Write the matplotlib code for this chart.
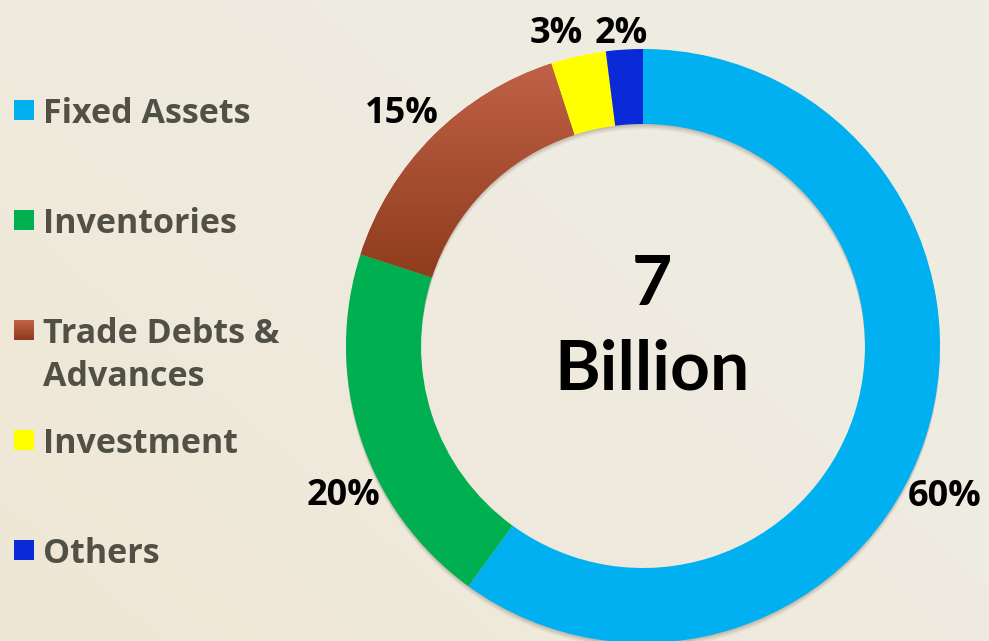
import numpy as np
import matplotlib
matplotlib.use("Agg")
import matplotlib.pyplot as plt
from matplotlib.patches import Rectangle, Wedge
from matplotlib.colors import LinearSegmentedColormap

categories = ["Fixed Assets", "Inventories", "Trade Debts &\nAdvances", "Investment", "Others"]
shares = [60, 20, 15, 3, 2]
pct_labels = ["60%", "20%", "15%", "3%", "2%"]
center_top = "7"
center_bottom = "Billion"

colors = ["#00B0F0", "#00B050", "#B55438", "#FFFF00", "#0A2AD8"]
legend_color = "#505046"

W, H = 989, 641
fig = plt.figure(figsize=(W / 100, H / 100), dpi=100)

# background
bg = fig.add_axes([0, 0, 1, 1])
yy, xx = np.mgrid[0:H, 0:W]
warm = np.clip(((W - xx) / W * 0.8 + yy / H * 0.6) - 0.55, 0, 1) * 0.9
base = np.array([238, 235, 224]) / 255
tint = np.array([240, 230, 210]) / 255
img = base[None, None, :] * (1 - warm[..., None]) + tint[None, None, :] * warm[..., None]
bg.imshow(img, extent=[0, 1, 0, 1], aspect="auto")
bg.axis("off")

# donut axes (radius 297px, centre at 643,346)
R = 297
cx, cy = 643, 346
ax = fig.add_axes([(cx - R) / W, (H - cy - R) / H, 2 * R / W, 2 * R / H])
ax.set_xlim(-1, 1)
ax.set_ylim(-1, 1)
ax.set_aspect("equal")
ax.axis("off")

ring_w = 75 / R

# soft shadow below the ring
for k, a in enumerate([0.10, 0.08, 0.06]):
    off = 0.006 * (k + 1)
    ax.add_patch(Wedge((0, -off), 1.0, 0, 360, width=ring_w, facecolor="#3a2a1a",
                       edgecolor="none", alpha=a, zorder=0))

wedges, _ = ax.pie(shares, colors=colors, startangle=90, counterclock=False, radius=1,
                   wedgeprops=dict(width=ring_w, edgecolor="none"))
for w in wedges:
    w.set_zorder(2)

# gradient fill for Trade Debts wedge
tw = wedges[2]
grad = LinearSegmentedColormap.from_list("td", ["#8C3A1C", "#C4644A"])
gimg = np.linspace(0, 1, 256)[:, None]
gi = ax.imshow(gimg, cmap=grad, extent=[-1, 0, 0.2, 1], origin="lower",
               aspect="auto", zorder=3)
gi.set_clip_path(tw)
ax.set_xlim(-1, 1)
ax.set_ylim(-1, 1)

# percentage labels around the ring
angle_shift = [-8, 8, 0.6, 2.8, 0.4]
label_dist = [1.131, 1.122, 1.136, 1.104, 1.067]
half_cap = 13 / R
for w, lab, da, rd in zip(wedges, pct_labels, angle_shift, label_dist):
    ang = np.deg2rad((w.theta1 + w.theta2) / 2 + da)
    ax.text(rd * np.cos(ang), rd * np.sin(ang) - half_cap, lab, ha="center", va="baseline",
            fontsize=26, fontweight="bold", family="Open Sans", color="black", clip_on=False)

# centre text
ax.text(9 / R, (cy - 305) / R, center_top, ha="center", va="baseline",
        fontsize=50, fontweight="bold", family="Lato", color="black")
ax.text(9 / R, (cy - 390) / R, center_bottom, ha="center", va="baseline",
        fontsize=50, fontweight="bold", family="Lato", color="black")

# legend on the left (baseline of first line of each entry)
baselines = [123, 233, 343, 453, 563]
line_step = 43
for name, col, b in zip(categories, colors, baselines):
    sq_y = (H - b + 3) / H
    if col == "#B55438":
        sgi = bg.imshow(gimg, cmap=grad, origin="lower", aspect="auto",
                        extent=[14 / W, 34 / W, sq_y, sq_y + 20 / H], zorder=3)
        bg.set_xlim(0, 1)
        bg.set_ylim(0, 1)
    else:
        fig.patches.append(Rectangle((14 / W, sq_y), 20 / W, 20 / H,
                                     transform=fig.transFigure, facecolor=col,
                                     edgecolor="none"))
    lines = name.split("\n")
    for i, ln in enumerate(lines):
        fig.text(43 / W, (H - b - i * line_step) / H, ln, ha="left", va="baseline",
                 fontsize=24.5, fontweight="bold", family="Open Sans", color=legend_color)

fig.savefig("out.png", dpi=100)
